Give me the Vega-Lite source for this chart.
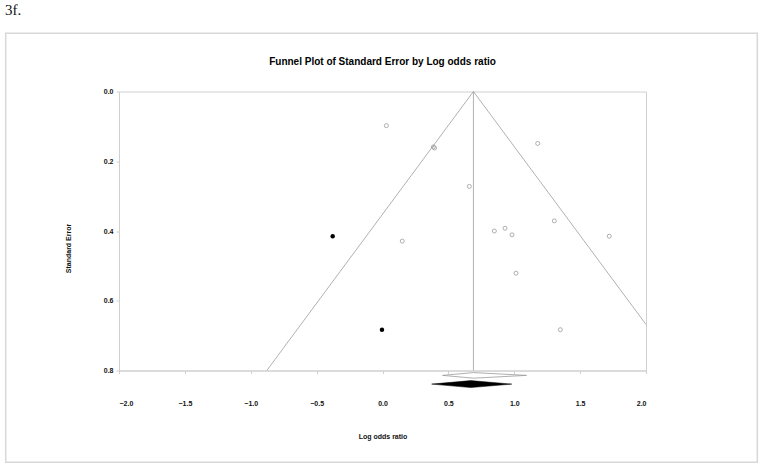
{
  "$schema": "https://vega.github.io/schema/vega-lite/v6.json",
  "autosize": {"type": "none"},
  "padding": {"left": 119, "top": 91.5, "right": 117, "bottom": 97.5},
  "width": 527,
  "height": 279,
  "background": "white",
  "config": {
    "view": {"stroke": "#d0d0d0", "strokeWidth": 1},
    "axis": {
      "labelFont": "Liberation Sans",
      "labelFontSize": 7,
      "labelFontWeight": "bold",
      "labelColor": "#111111",
      "titleFont": "Liberation Sans",
      "titleFontSize": 7,
      "titleFontWeight": "bold",
      "titleColor": "#111111",
      "domainColor": "#d0d0d0",
      "tickColor": "#d0d0d0",
      "tickSize": 3,
      "grid": false
    }
  },
  "datasets": {
    "studies": [
      {"x": 0.029, "se": 0.098, "type": "observed"},
      {"x": 0.386, "se": 0.159, "type": "observed"},
      {"x": 0.395, "se": 0.162, "type": "observed"},
      {"x": 0.659, "se": 0.272, "type": "observed"},
      {"x": 0.150, "se": 0.429, "type": "observed"},
      {"x": 0.849, "se": 0.400, "type": "observed"},
      {"x": 0.930, "se": 0.392, "type": "observed"},
      {"x": 0.983, "se": 0.411, "type": "observed"},
      {"x": 1.178, "se": 0.149, "type": "observed"},
      {"x": 1.304, "se": 0.371, "type": "observed"},
      {"x": 1.721, "se": 0.415, "type": "observed"},
      {"x": 1.013, "se": 0.521, "type": "observed"},
      {"x": 1.350, "se": 0.683, "type": "observed"},
      {"x": -0.378, "se": 0.415, "type": "imputed"},
      {"x": -0.004, "se": 0.683, "type": "imputed"}
    ],
    "funnel": [
      {"line": "left", "x": 0.69, "se": 0.0, "o": 0},
      {"line": "left", "x": -0.878, "se": 0.8, "o": 1},
      {"line": "right", "x": 0.69, "se": 0.0, "o": 0},
      {"line": "right", "x": 2.0, "se": 0.668, "o": 1},
      {"line": "center", "x": 0.69, "se": 0.0, "o": 0},
      {"line": "center", "x": 0.69, "se": 0.8, "o": 1}
    ],
    "diamonds": [
      {"kind": "observed", "x": 0.456, "lo": 0.814, "hi": 0.814},
      {"kind": "observed", "x": 0.69, "lo": 0.806, "hi": 0.822},
      {"kind": "observed", "x": 1.093, "lo": 0.814, "hi": 0.814},
      {"kind": "adjusted", "x": 0.373, "lo": 0.839, "hi": 0.839},
      {"kind": "adjusted", "x": 0.67, "lo": 0.829, "hi": 0.849},
      {"kind": "adjusted", "x": 0.981, "lo": 0.839, "hi": 0.839}
    ],
    "frame": [
      {"x": -2.86, "x2": 2.845, "y": -0.167, "y2": 1.063}
    ],
    "label": [
      {"x": -2.865, "y": -0.218, "text": "3f."}
    ],
    "heading": [
      {"x": 0.0, "y": -0.0854, "text": "Funnel Plot of Standard Error by Log odds ratio"}
    ]
  },
  "layer": [
    {
      "data": {"name": "frame"},
      "mark": {"type": "rect", "fill": null, "stroke": "#d8d8d8", "strokeWidth": 1.5},
      "encoding": {
        "x": {"field": "x", "type": "quantitative", "scale": {"domain": [-2, 2], "nice": false, "zero": false}},
        "x2": {"field": "x2"},
        "y": {"field": "y", "type": "quantitative", "scale": {"domain": [0, 0.8], "nice": false, "reverse": true, "zero": false}},
        "y2": {"field": "y2"}
      }
    },
    {
      "data": {"name": "funnel"},
      "mark": {"type": "line", "color": "#a8a8a8", "strokeWidth": 0.9},
      "encoding": {
        "x": {
          "field": "x", "type": "quantitative",
          "scale": {"domain": [-2, 2], "nice": false, "zero": false},
          "axis": {
            "values": [-2, -1.5, -1, -0.5, 0, 0.5, 1, 1.5, 2],
            "format": ".1f",
            "labelPadding": 26,
            "title": "Log odds ratio",
            "titleY": 62,
            "titleBaseline": "top"
          }
        },
        "y": {
          "field": "se", "type": "quantitative",
          "scale": {"domain": [0, 0.8], "nice": false, "reverse": true, "zero": false},
          "axis": {
            "values": [0, 0.2, 0.4, 0.6, 0.8],
            "format": ".1f",
            "labelPadding": 3,
            "title": "Standard Error",
            "titleX": -48,
            "titleY": 156.5
          }
        },
        "detail": {"field": "line"},
        "order": {"field": "o"}
      }
    },
    {
      "data": {"name": "studies"},
      "transform": [{"filter": "datum.type === 'observed'"}],
      "mark": {"type": "point", "shape": "circle", "filled": false, "stroke": "#9a9a9a", "strokeWidth": 0.8, "size": 16, "opacity": 1},
      "encoding": {
        "x": {"field": "x", "type": "quantitative"},
        "y": {"field": "se", "type": "quantitative"}
      }
    },
    {
      "data": {"name": "studies"},
      "transform": [{"filter": "datum.type === 'imputed'"}],
      "mark": {"type": "point", "shape": "circle", "filled": true, "color": "#000000", "size": 20, "opacity": 1},
      "encoding": {
        "x": {"field": "x", "type": "quantitative"},
        "y": {"field": "se", "type": "quantitative"}
      }
    },
    {
      "data": {"name": "diamonds"},
      "transform": [{"filter": "datum.kind === 'observed'"}],
      "mark": {"type": "area", "orient": "vertical", "fill": "#ffffff", "stroke": "#9a9a9a", "strokeWidth": 0.8},
      "encoding": {
        "x": {"field": "x", "type": "quantitative"},
        "y": {"field": "lo", "type": "quantitative"},
        "y2": {"field": "hi"}
      }
    },
    {
      "data": {"name": "diamonds"},
      "transform": [{"filter": "datum.kind === 'adjusted'"}],
      "mark": {"type": "area", "orient": "vertical", "fill": "#000000", "stroke": "#000000", "strokeWidth": 0.5},
      "encoding": {
        "x": {"field": "x", "type": "quantitative"},
        "y": {"field": "lo", "type": "quantitative"},
        "y2": {"field": "hi"}
      }
    },
    {
      "data": {"name": "label"},
      "mark": {"type": "text", "font": "Liberation Serif", "fontSize": 15, "align": "left", "baseline": "alphabetic", "color": "#111111"},
      "encoding": {
        "x": {"field": "x", "type": "quantitative"},
        "y": {"field": "y", "type": "quantitative"},
        "text": {"field": "text"}
      }
    },
    {
      "data": {"name": "heading"},
      "mark": {"type": "text", "font": "Liberation Sans", "fontSize": 10, "fontWeight": "bold", "align": "center", "baseline": "middle", "color": "#000000"},
      "encoding": {
        "x": {"field": "x", "type": "quantitative"},
        "y": {"field": "y", "type": "quantitative"},
        "text": {"field": "text"}
      }
    }
  ]
}
